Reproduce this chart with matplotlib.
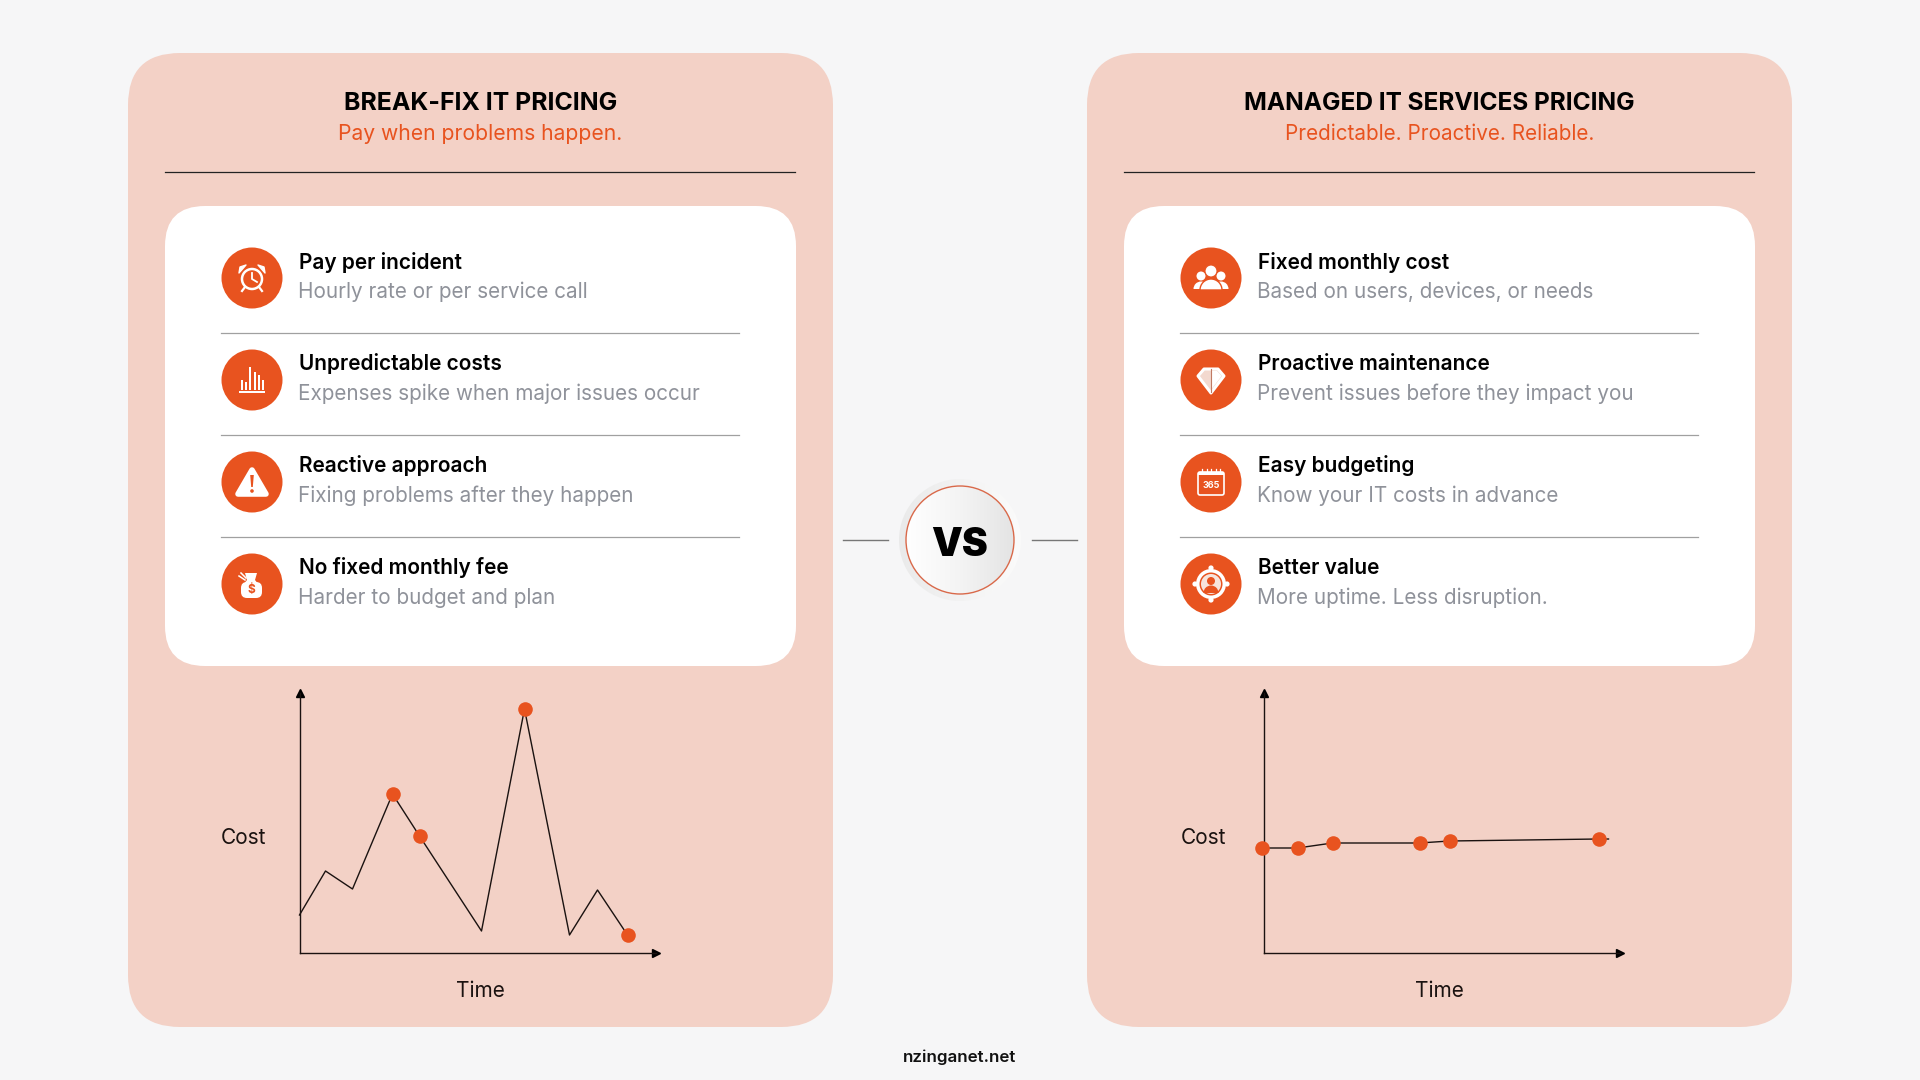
import numpy as np
import matplotlib
matplotlib.use('Agg')
import matplotlib.pyplot as plt
from matplotlib.colors import LinearSegmentedColormap
from matplotlib.patches import Circle, FancyBboxPatch, Polygon, Rectangle, Ellipse, Wedge

plt.rcParams['font.family'] = ['Inter', 'DejaVu Sans']

# Colours
BG = '#F6F6F7'
PANEL = '#F3D1C6'
ORANGE = '#E8531F'
GREY = '#8F929A'
RULE = '#A0A0A0'
DARK = '#1A1210'

# Text
left_title = 'BREAK-FIX IT PRICING'
left_sub = 'Pay when problems happen.'
right_title = 'MANAGED IT SERVICES PRICING'
right_sub = 'Predictable. Proactive. Reliable.'
left_heads = ['Pay per incident', 'Unpredictable costs', 'Reactive approach', 'No fixed monthly fee']
left_notes = ['Hourly rate or per service call', 'Expenses spike when major issues occur',
              'Fixing problems after they happen', 'Harder to budget and plan']
right_heads = ['Fixed monthly cost', 'Proactive maintenance', 'Easy budgeting', 'Better value']
right_notes = ['Based on users, devices, or needs', 'Prevent issues before they impact you',
               'Know your IT costs in advance', 'More uptime. Less disruption.']
footer = 'nzinganet.net'

# Line chart values
left_time = [0, 26, 53, 93, 120, 182, 225, 270, 298, 328]
left_cost = [38, 82, 64, 159, 117, 22, 244, 18, 63, 18]
left_dots = [3, 4, 6, 9]
right_time = [-2, 34, 69, 156, 186, 335, 345]
right_cost = [105, 105, 110, 110, 112, 114, 114]
right_dots = [0, 1, 2, 3, 4, 5]

fig = plt.figure(figsize=(19.2, 10.8), dpi=100, facecolor=BG)
ax = fig.add_axes([0, 0, 1, 1])
ax.set_xlim(0, 1920)
ax.set_ylim(1080, 0)
ax.axis('off')


def round_box(x, y, w, h, r, color):
    ax.add_patch(FancyBboxPatch((x, y), w, h, boxstyle=f'round,pad=0,rounding_size={r}',
                                fc=color, ec='none'))


def clock(cx, cy):
    ax.add_patch(Circle((cx, cy + 1), 10, fc='none', ec='white', lw=1.8))
    ax.plot([cx, cx, cx + 5], [cy - 5, cy + 1, cy + 4], color='white', lw=1.3)
    for s in (-1, 1):
        ax.add_patch(Polygon([(cx + s * 6, cy - 13), (cx + s * 12, cy - 11), (cx + s * 13, cy - 5)],
                             fc='white', ec='white', lw=1, joinstyle='round'))
        ax.plot([cx + s * 7, cx + s * 10], [cy + 9, cy + 13], color='white', lw=1.6)


def bars(cx, cy):
    offs = [-10, -6, -2, 3, 7, 11]
    hts = [10, 8, 23, 18, 15, 10]
    for o, h in zip(offs, hts):
        ax.add_patch(Rectangle((cx + o - 1.2, cy + 10 - h), 2.4, h, fc='white', ec='none'))
    ax.add_patch(Rectangle((cx - 13, cy + 11), 26, 1.6, fc='white', ec='none'))


def warning(cx, cy):
    ax.add_patch(Polygon([(cx, cy - 12), (cx + 14, cy + 12), (cx - 14, cy + 12)], fc='white',
                         ec='white', lw=4, joinstyle='round'))
    ax.add_patch(Polygon([(cx - 1.8, cy - 7), (cx + 1.8, cy - 7), (cx + 0.8, cy + 5), (cx - 0.8, cy + 5)],
                         fc=ORANGE, ec='none'))
    ax.add_patch(Circle((cx, cy + 9), 1.8, fc=ORANGE, ec='none'))


def bag(cx, cy):
    ax.add_patch(FancyBboxPatch((cx - 11, cy - 2), 21, 16, boxstyle='round,pad=0,rounding_size=6',
                                fc='white', ec='none'))
    ax.add_patch(Polygon([(cx - 7, cy - 11), (cx + 5, cy - 11), (cx + 3, cy - 4), (cx + 7, cy + 1),
                          (cx - 9, cy + 1), (cx - 5, cy - 4)], fc='white', ec='none'))
    ax.plot([cx - 13, cx - 7], [cy - 8, cy - 4], color='white', lw=1.1)
    ax.plot([cx - 11, cx - 6], [cy - 11, cy - 6], color='white', lw=1.1)
    ax.text(cx - 1, cy + 6, '$', color=ORANGE, fontsize=8.5, fontweight='bold', ha='center', va='center')


def people(cx, cy):
    for dx, dy, r in [(-10, -2, 4.5), (10, -2, 4.5)]:
        ax.add_patch(Circle((cx + dx, cy + dy), r, fc='white', ec='none'))
        ax.add_patch(Wedge((cx + dx, cy + 11), 7.5, 180, 360, fc='white', ec='none'))
    ax.add_patch(Circle((cx, cy - 7), 6, fc='white', ec=ORANGE, lw=0.8))
    ax.add_patch(Wedge((cx, cy + 12), 11, 180, 360, fc='white', ec=ORANGE, lw=1))


def shield(cx, cy):
    pts = [(cx - 13, cy - 4), (cx - 7, cy - 11), (cx + 7, cy - 11), (cx + 13, cy - 4), (cx, cy + 13)]
    ax.add_patch(Polygon(pts, fc='#F3D9CF', ec='white', lw=2.2, joinstyle='round'))
    ax.plot([cx, cx], [cy - 11, cy + 12], color='#C07A62', lw=0.8)
    ax.add_patch(Polygon([(cx + 0.6, cy - 9), (cx + 6, cy - 9), (cx + 10.5, cy - 4), (cx + 0.6, cy + 9)],
                         fc='white', ec='none'))


def calendar(cx, cy):
    ax.add_patch(FancyBboxPatch((cx - 13, cy - 10), 26, 23, boxstyle='round,pad=0,rounding_size=2',
                                fc='none', ec='white', lw=1.2))
    ax.add_patch(Rectangle((cx - 13, cy - 10), 26, 3, fc='white', ec='none'))
    for o in (-9, -4.5, 0, 4.5, 9):
        ax.plot([cx + o, cx + o], [cy - 13, cy - 9], color='white', lw=0.9)
    ax.text(cx, cy + 3.5, '365', color='white', fontsize=6.5, fontweight='bold', ha='center', va='center')


def target(cx, cy):
    for dx, dy in [(-16, 0), (16, 0), (0, -16), (0, 16)]:
        ax.add_patch(Circle((cx + dx, cy + dy), 2.6, fc='white', ec='none'))
    ax.add_patch(Circle((cx, cy), 15, fc='white', ec='none'))
    ax.add_patch(Circle((cx, cy), 11.5, fc=ORANGE, ec='none'))
    ax.add_patch(Circle((cx, cy), 10, fc='#F7E4DC', ec='none'))
    ax.add_patch(Circle((cx, cy - 3), 4, fc=ORANGE, ec='none'))
    ax.add_patch(Wedge((cx, cy + 9), 7.5, 180, 360, fc=ORANGE, ec='none'))


def panel(x0, title, sub, heads, notes, icons, title_size, sub_size):
    mid = x0 + 352.5
    round_box(x0, 53, 705, 974, 52, PANEL)
    ax.text(mid, 110, title, ha='center', va='baseline', fontsize=title_size, fontweight='bold', color='black')
    ax.text(mid, 140.5, sub, ha='center', va='baseline', fontsize=sub_size, color=ORANGE)
    ax.plot([x0 + 37, x0 + 667], [172, 172], color='#222222', lw=0.9)
    round_box(x0 + 37, 206, 631, 460, 40, 'white')
    ic_x = x0 + 124
    tx = x0 + 171
    rows = [278, 380, 482, 584]
    bases = [(269, 298), (370, 400), (472, 502), (574, 604)]
    for i in range(4):
        ax.add_patch(Circle((ic_x, rows[i]), 30.5, fc=ORANGE, ec='none'))
        icons[i](ic_x, rows[i])
        ax.text(tx, bases[i][0], heads[i], fontsize=15, fontweight='semibold', color='black')
        ax.text(tx - 1, bases[i][1], notes[i], fontsize=14.9, color=GREY)
        if i < 3:
            ax.plot([x0 + 93, x0 + 611], [rows[i] + 54.5, rows[i] + 54.5], color=RULE, lw=0.9)


panel(128, left_title, left_sub, left_heads, left_notes, [clock, bars, warning, bag], 17.9, 15.2)
panel(1087, right_title, right_sub, right_heads, right_notes, [people, shield, calendar, target], 17.6, 14.9)


def line_chart(x0, time, cost, dots, cost_x, time_x):
    # inset axes: one unit is one pixel from the chart origin
    a = fig.add_axes([x0 / 1920, (1080 - 953) / 1080, 356 / 1920, 260 / 1080])
    a.set_xlim(0, 356)
    a.set_ylim(0, 260)
    a.patch.set_alpha(0)
    for s in ('top', 'right'):
        a.spines[s].set_visible(False)
    for s in ('left', 'bottom'):
        a.spines[s].set_color(DARK)
        a.spines[s].set_linewidth(1)
    a.set_xticks([])
    a.set_yticks([])
    a.plot(1, 0, '>', color='black', ms=6, transform=a.transAxes, clip_on=False)
    a.plot(0, 1, '^', color='black', ms=6, transform=a.transAxes, clip_on=False)
    a.plot(time, cost, color=DARK, lw=1, clip_on=False)
    a.plot([time[i] for i in dots], [cost[i] for i in dots], 'o', color=ORANGE, ms=10.5,
           mec='none', clip_on=False, zorder=5)
    ax.text(cost_x, 838, 'Cost', ha='center', va='center', fontsize=15, color=DARK)
    ax.text(time_x, 991, 'Time', ha='center', va='center', fontsize=15, color=DARK)


line_chart(299.5, left_time, left_cost, left_dots, 243, 480)
line_chart(1263.5, right_time, right_cost, right_dots, 1203, 1439)

# VS badge in the middle
grad = np.linspace(0, 1, 256).reshape(1, -1)
halo_cmap = LinearSegmentedColormap.from_list('halo', ['#EAEAEA', '#FBFBFB'])
inner_cmap = LinearSegmentedColormap.from_list('inner', ['#FFFFFF', '#F4F4F4', '#E4E4E4'])
halo = ax.imshow(grad, extent=(899, 1021, 601, 479), cmap=halo_cmap, aspect='auto', zorder=3)
halo.set_clip_path(Circle((960, 540), 61, transform=ax.transData))
inner = ax.imshow(grad, extent=(906, 1014, 594, 486), cmap=inner_cmap, aspect='auto', zorder=4)
inner.set_clip_path(Circle((960, 540), 54, transform=ax.transData))
ax.set_xlim(0, 1920)
ax.set_ylim(1080, 0)
ax.add_patch(Circle((960, 540), 54, fc='none', ec='#D9694A', lw=1, zorder=5))
ax.text(960, 541, 'VS', ha='center', va='center_baseline', fontsize=28, fontweight='black', color='black', zorder=6)
ax.plot([843, 888], [539.5, 539.5], color='#777777', lw=1)
ax.plot([1032, 1077], [539.5, 539.5], color='#777777', lw=1)

ax.text(960, 1057, footer, ha='center', va='center', fontsize=12.2, fontweight='semibold', color='#111111')

fig.savefig('out.png', dpi=100, facecolor=BG)
